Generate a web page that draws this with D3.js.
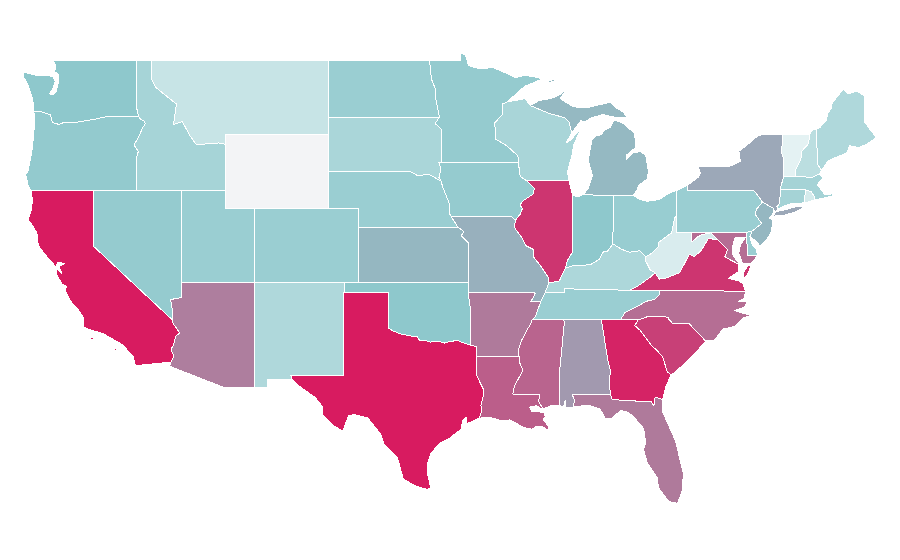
<!DOCTYPE html>
<html>
<head>
<meta charset="utf-8">
<title>US choropleth</title>
<script src="https://cdn.jsdelivr.net/npm/d3@7"></script>
<style>
  html, body { margin: 0; background: #fff; }
  svg { display: block; }
  .state { stroke: #fff; stroke-width: 1; stroke-linejoin: round; shape-rendering: crispEdges; }
</style>
</head>
<body>
<div id="map"></div>
<script>
// shared borders, [lon, lat]
const columbia = [[-124.0,46.27],[-123.55,46.26],[-123.2,46.15],[-122.9,46.08],[-122.8,45.85],[-122.75,45.65],[-122.3,45.55],[-121.9,45.68],[-121.2,45.65],[-120.6,45.74],[-120.0,45.81],[-119.3,45.93],[-118.98,46.0],[-116.92,46.0]];
const snake = [[-116.92,46.0],[-116.78,45.83],[-116.55,45.75],[-116.46,45.6],[-116.67,45.32],[-116.85,44.98],[-117.22,44.44],[-117.05,44.23],[-116.93,44.1],[-117.03,43.83],[-117.03,42.0]];
const caNv = [[-120.0,42.0],[-120.0,39.0],[-114.63,35.0]];
const colorado = [[-114.63,35.0],[-114.57,34.8],[-114.14,34.3],[-114.42,34.1],[-114.53,33.7],[-114.72,33.4],[-114.52,33.03],[-114.72,32.72]];
const nvAz = [[-114.04,37.0],[-114.04,36.2],[-114.4,36.15],[-114.75,36.1],[-114.65,35.6],[-114.63,35.0]];
const redRiver = [[-100.0,34.56],[-99.7,34.4],[-99.2,34.25],[-98.9,34.2],[-98.4,34.12],[-98.1,34.13],[-97.9,33.9],[-97.5,33.9],[-97.2,33.8],[-96.9,33.85],[-96.6,33.85],[-96.2,33.75],[-95.8,33.85],[-95.3,33.88],[-94.9,33.75],[-94.48,33.64]];
const sabine = [[-94.04,33.02],[-94.04,32.0],[-93.8,31.6],[-93.55,31.2],[-93.6,30.9],[-93.75,30.4],[-93.72,30.05],[-93.85,29.7]];
const missouriKs = [[-95.77,40.58],[-95.3,40.0],[-95.05,39.85],[-94.9,39.75],[-95.1,39.55],[-94.9,39.4],[-94.6,39.15],[-94.62,37.0]];
const missouriIa = [[-96.6,43.5],[-96.45,43.1],[-96.6,42.7],[-96.45,42.49],[-96.35,42.2],[-96.1,41.7],[-95.9,41.3],[-95.85,40.7],[-95.77,40.58]];
const rRiver = [[-97.23,49.0],[-97.1,48.0],[-96.85,47.5],[-96.8,46.9],[-96.56,45.94]];
const sdMn = [[-96.56,45.94],[-96.85,45.6],[-96.45,45.3],[-96.45,43.5]];
const upperMiss = [[-92.29,46.66],[-92.29,46.1],[-92.85,45.6],[-92.75,45.2],[-92.75,44.75],[-92.0,44.4],[-91.25,43.85],[-91.22,43.5]];
const iaWi = [[-91.22,43.5],[-91.1,42.75],[-90.65,42.5]];
const iaIl = [[-90.65,42.5],[-90.15,42.1],[-90.2,41.8],[-90.95,41.4],[-91.1,41.2],[-90.95,41.0],[-91.1,40.7],[-91.42,40.38]];
const moIl = [[-91.42,40.38],[-91.5,40.0],[-91.0,39.45],[-90.7,39.0],[-90.2,38.8],[-90.2,38.4],[-89.7,37.9],[-89.2,37.3],[-89.15,37.0]];
const bootheel = [[-90.15,36.5],[-90.08,36.4],[-90.37,36.0],[-89.7,36.0]];
const tnArk = [[-89.7,36.0],[-90.05,35.2],[-90.3,35.0]];
const msArk = [[-90.3,35.0],[-90.3,34.9],[-90.6,34.5],[-91.0,33.9],[-91.2,33.4],[-91.17,33.0]];
const msLa = [[-91.17,33.0],[-91.1,32.6],[-90.9,32.3],[-91.1,32.0],[-91.5,31.4],[-91.6,31.0],[-89.75,31.0],[-89.85,30.6],[-89.55,30.2]];
const ohioRiver = [[-82.6,38.4],[-83.0,38.73],[-83.7,38.65],[-84.2,38.8],[-84.82,39.1]];
const ohioRiverIn = [[-84.82,39.1],[-85.2,38.7],[-85.45,38.7],[-85.75,38.27],[-86.3,38.0],[-86.8,37.95],[-87.5,37.93],[-88.03,37.8]];
const ilKy = [[-88.03,37.8],[-88.45,37.1],[-89.15,37.0]];
const wabash = [[-87.53,41.72],[-87.53,39.35],[-87.53,38.7],[-87.9,38.2],[-88.03,37.8]];
const kyTn = [[-81.68,36.59],[-83.68,36.6],[-86.5,36.65],[-88.07,36.68],[-88.07,36.5],[-89.4,36.5]];
const tnNc = [[-84.32,35.0],[-84.0,35.4],[-83.1,35.75],[-82.6,36.0],[-82.0,36.1],[-81.7,36.35],[-81.68,36.59]];
const chattahoochee = [[-85.6,35.0],[-85.18,32.87],[-85.0,32.3],[-85.05,31.55],[-85.0,31.0]];
const gaFl = [[-85.0,31.0],[-84.86,30.7],[-82.21,30.57],[-82.05,30.36],[-82.0,30.75],[-81.95,30.83],[-81.45,30.71]];
const savannah = [[-83.11,35.0],[-83.35,34.7],[-83.0,34.45],[-82.75,34.2],[-82.2,33.6],[-81.9,33.4],[-81.45,33.0],[-81.15,32.2],[-80.87,32.03]];
const ncSc = [[-83.11,35.0],[-82.4,35.2],[-81.05,35.15],[-81.05,35.05],[-80.8,34.82],[-79.67,34.8],[-78.55,33.86]];
const ohPa = [[-80.52,41.98],[-80.52,40.64]];
const ohWv = [[-80.52,40.64],[-80.65,40.5],[-80.85,39.7],[-81.7,39.2],[-81.75,38.95],[-82.2,38.6],[-82.6,38.4]];
const kyWv = [[-82.6,38.4],[-82.6,38.17],[-82.3,37.7],[-81.97,37.54]];
const kyVa = [[-81.97,37.54],[-82.3,37.3],[-83.1,36.85],[-83.68,36.6]];
const vaWv = [[-81.97,37.54],[-81.68,37.2],[-81.25,37.25],[-80.3,37.55],[-79.65,38.55],[-79.3,38.42],[-78.85,38.75],[-78.35,39.4],[-77.72,39.32]];
const mdWv = [[-77.72,39.32],[-78.2,39.7],[-78.8,39.6],[-79.1,39.47],[-79.48,39.2],[-79.48,39.72]];
const potomac = [[-77.72,39.32],[-77.5,39.15],[-77.05,38.8],[-77.25,38.4],[-76.9,38.25],[-76.3,38.0]];
const delaware = [[-74.7,41.36],[-75.1,40.98],[-75.2,40.7],[-74.75,40.2],[-75.4,39.8]];
const vtNy = [[-73.35,45.0],[-73.4,44.0],[-73.25,43.6],[-73.27,42.75]];
const connecticutR = [[-71.5,45.0],[-71.6,44.5],[-72.05,44.1],[-72.1,43.7],[-72.45,43.1],[-72.46,42.73]];
const nhMe = [[-71.05,45.3],[-70.98,43.4],[-70.7,43.07]];
const maNorth = [[-73.27,42.75],[-72.46,42.73],[-71.3,42.7],[-70.85,42.88]];
const riMa = [[-71.8,42.02],[-71.38,41.9],[-71.2,41.65],[-71.13,41.5]];

const rev = (a) => [...a].reverse();
const ring = (...parts) => parts.flat();

// state outlines (outer rings and islands)
const outlines = {
  Washington: [ring([[-122.76,49.0],[-122.5,48.75],[-122.6,48.4],[-122.35,48.25],[-122.3,47.95],[-122.4,47.6],[-122.5,47.3],[-122.7,47.15],[-122.95,47.2],[-122.7,47.5],[-122.55,47.9],[-122.75,48.15],[-123.1,48.18],[-123.7,48.17],[-124.7,48.38],[-124.73,48.15],[-124.4,47.7],[-124.1,46.95],[-124.05,46.7],[-124.0,46.27]], columbia, [[-117.04,46.42],[-117.04,49.0]])],
  Oregon: [ring(columbia, snake, [[-124.21,42.0],[-124.4,42.3],[-124.55,42.85],[-124.4,43.0],[-124.15,44.0],[-124.05,44.7],[-123.95,45.6]])],
  California: [
    ring(caNv, colorado, [[-117.12,32.53],[-117.3,33.05],[-118.0,33.65],[-118.4,33.85],[-118.8,34.02],[-119.3,34.25],[-120.2,34.47],[-120.62,34.6],[-120.63,35.1],[-120.9,35.45],[-121.5,36.0],[-121.9,36.6],[-121.8,36.8],[-122.1,36.95],[-122.5,37.5],[-122.45,37.75],[-122.1,37.5],[-122.3,37.9],[-121.9,38.05],[-122.4,38.1],[-122.5,37.85],[-123.0,38.3],[-123.7,39.0],[-123.8,39.7],[-124.1,40.1],[-124.4,40.4],[-124.15,41.0],[-124.1,41.5],[-124.21,42.0]]),
    [[-120.15,34.05],[-119.95,34.05],[-119.95,33.95],[-120.15,33.95]],
    [[-119.85,34.05],[-119.65,34.05],[-119.65,33.98],[-119.85,33.98]],
    [[-118.55,33.45],[-118.4,33.45],[-118.4,33.35],[-118.55,33.35]],
  ],
  Idaho: [ring([[-117.04,49.0],[-117.04,46.42]], snake, [[-111.05,42.0],[-111.05,44.48],[-111.5,44.55],[-112.3,44.5],[-113.0,44.45],[-113.45,44.95],[-113.95,45.7],[-114.55,45.55],[-114.35,46.65],[-115.3,47.25],[-115.75,47.55],[-116.05,48.0],[-116.05,49.0]])],
  Montana: [[[-116.05,49.0],[-116.05,48.0],[-115.75,47.55],[-115.3,47.25],[-114.35,46.65],[-114.55,45.55],[-113.95,45.7],[-113.45,44.95],[-113.0,44.45],[-112.3,44.5],[-111.5,44.55],[-111.05,44.48],[-111.05,45.0],[-104.05,45.0],[-104.05,49.0]]],
  Wyoming: [[[-111.05,45.0],[-104.05,45.0],[-104.05,41.0],[-111.05,41.0]]],
  Nevada: [ring(caNv, rev(nvAz), [[-114.04,42.0]])],
  Utah: [[[-114.04,42.0],[-111.05,42.0],[-111.05,41.0],[-109.05,41.0],[-109.05,37.0],[-114.04,37.0]]],
  Arizona: [ring(nvAz, colorado, [[-114.81,32.5],[-111.07,31.33],[-109.05,31.33],[-109.05,37.0]])],
  Colorado: [[[-109.05,41.0],[-102.05,41.0],[-102.05,37.0],[-109.05,37.0]]],
  "New Mexico": [[[-109.05,37.0],[-103.0,37.0],[-103.04,32.0],[-106.62,32.0],[-106.53,31.78],[-108.21,31.78],[-108.21,31.33],[-109.05,31.33]]],
  "North Dakota": [ring([[-104.05,49.0]], rRiver, [[-104.05,45.94]])],
  "South Dakota": [ring([[-104.05,45.94]], sdMn, [[-96.6,43.5],[-96.45,43.1],[-96.6,42.7],[-96.45,42.49],[-96.7,42.6],[-97.3,42.87],[-98.0,42.77],[-98.5,43.0],[-104.05,43.0]])],
  Nebraska: [ring([[-104.05,43.0],[-98.5,43.0],[-98.0,42.77],[-97.3,42.87],[-96.7,42.6]], [[-96.45,42.49],[-96.35,42.2],[-96.1,41.7],[-95.9,41.3],[-95.85,40.7],[-95.77,40.58],[-95.3,40.0]], [[-102.05,40.0],[-102.05,41.0],[-104.05,41.0]])],
  Kansas: [ring([[-102.05,40.0],[-95.3,40.0],[-95.05,39.85],[-94.9,39.75],[-95.1,39.55],[-94.9,39.4],[-94.6,39.15],[-94.62,37.0],[-102.05,37.0]])],
  Oklahoma: [ring([[-103.0,37.0],[-94.62,37.0],[-94.62,36.5],[-94.43,35.4]], rev(redRiver), [[-100.0,36.5],[-103.0,36.5]])],
  Texas: [ring([[-103.04,36.5],[-100.0,36.5]], redRiver, [[-94.04,33.55]], sabine, [[-94.7,29.4],[-94.75,29.75],[-95.0,29.55],[-95.1,29.1],[-95.9,28.6],[-96.5,28.35],[-97.1,27.85],[-97.35,27.3],[-97.4,26.8],[-97.15,25.95],[-97.4,25.85],[-98.2,26.05],[-99.0,26.4],[-99.4,27.55],[-100.3,28.3],[-100.55,28.85],[-101.4,29.7],[-102.3,29.88],[-102.7,29.85],[-103.1,29.0],[-103.75,29.3],[-104.45,29.85],[-104.5,30.35],[-104.95,30.8],[-106.0,31.4],[-106.53,31.78],[-106.62,32.0],[-103.04,32.0]])],
  Minnesota: [ring([[-97.23,49.0],[-95.15,49.0],[-95.15,49.38],[-94.8,49.33],[-94.6,48.72],[-93.8,48.55],[-92.95,48.62],[-92.0,48.3],[-91.4,48.07],[-90.8,48.2],[-90.0,48.1],[-89.6,48.0],[-90.8,47.6],[-91.3,47.25],[-92.0,46.75],[-92.29,46.66]], upperMiss, [[-96.45,43.5]], rev(sdMn), rev(rRiver))],
  Iowa: [ring([[-91.22,43.5]], iaWi, iaIl, [[-91.73,40.6]], rev(missouriIa))],
  Missouri: [ring([[-95.77,40.58],[-91.73,40.6]], moIl, [[-89.4,36.5]], rev(bootheel), [[-94.62,36.5]], rev(missouriKs))],
  Arkansas: [ring([[-94.62,36.5]], bootheel, tnArk, msArk, [[-94.04,33.02],[-94.04,33.55],[-94.48,33.64],[-94.43,35.4]])],
  Louisiana: [ring(msLa, [[-89.65,30.2],[-90.0,30.37],[-90.45,30.3],[-90.3,30.05],[-89.9,30.05],[-89.5,30.0],[-89.4,29.8],[-89.55,29.6],[-89.15,29.25],[-89.2,29.05],[-89.6,29.25],[-90.0,29.25],[-90.3,29.1],[-90.9,29.2],[-91.3,29.4],[-91.8,29.6],[-92.3,29.55],[-93.2,29.75]], rev(sabine))],
  Mississippi: [ring(msArk, [[-91.1,32.6],[-90.9,32.3],[-91.1,32.0],[-91.5,31.4],[-91.6,31.0],[-89.75,31.0],[-89.85,30.6],[-89.55,30.2],[-88.9,30.4],[-88.4,30.35],[-88.47,31.9],[-88.1,34.9],[-88.2,35.0]])],
  Alabama: [ring([[-88.2,35.0]], chattahoochee, [[-87.6,31.0],[-87.4,30.65],[-87.52,30.3],[-88.0,30.25],[-88.05,30.65],[-88.15,30.35],[-88.4,30.35],[-88.47,31.9],[-88.1,34.9]])],
  Georgia: [ring(chattahoochee, gaFl, [[-81.2,31.5]], rev(savannah))],
  Florida: [ring(gaFl, [[-81.5,30.1],[-80.6,28.5],[-80.05,26.7],[-80.15,25.75],[-80.45,25.1],[-81.05,25.2],[-81.75,25.95],[-81.8,26.45],[-82.5,27.3],[-82.75,28.0],[-82.6,28.35],[-82.75,29.15],[-83.45,29.8],[-83.9,30.05],[-84.3,30.1],[-84.9,29.7],[-85.35,29.7],[-85.7,30.2],[-86.5,30.4],[-87.52,30.3],[-87.4,30.65],[-87.6,31.0]])],
  "South Carolina": [ring(ncSc, [[-79.1,33.35],[-79.9,32.7],[-80.45,32.3]], rev(savannah))],
  "North Carolina": [ring(tnNc, [[-75.87,36.55],[-75.9,36.2],[-76.3,36.0],[-75.75,36.0],[-75.9,35.7],[-76.6,35.5],[-76.0,35.35],[-75.5,35.25],[-76.0,35.1],[-76.55,34.65],[-77.4,34.5],[-77.95,33.9]], rev(ncSc), [[-84.32,35.0]])],
  Tennessee: [ring([[-90.3,35.0],[-84.32,35.0]], tnNc, kyTn, [[-89.7,36.0]], [[-90.05,35.2]])],
  Kentucky: [ring(rev(kyTn), [[-83.68,36.6]], rev(kyVa), rev(kyWv), ohioRiver, ohioRiverIn, ilKy)],
  Wisconsin: [ring([[-92.29,46.66],[-92.1,46.75],[-91.2,46.87],[-90.75,46.95],[-90.42,46.57],[-89.1,46.13],[-88.1,45.92],[-87.8,45.7],[-87.6,45.1],[-88.0,44.55],[-87.7,44.7],[-87.0,45.3],[-87.5,44.4],[-87.55,44.0],[-87.9,43.0],[-87.8,42.5],[-90.65,42.5],[-91.1,42.75]], rev(upperMiss))],
  Illinois: [ring([[-90.65,42.5],[-87.8,42.5],[-87.6,41.9]], wabash, ilKy, rev(moIl), rev(iaIl))],
  Indiana: [ring(wabash.slice(0, 1), [[-87.2,41.65],[-86.82,41.76],[-84.8,41.7],[-84.82,39.1]], ohioRiverIn.slice(1), rev(wabash).slice(1))],
  Ohio: [ring([[-84.8,41.7],[-83.45,41.73],[-83.0,41.5],[-82.5,41.4],[-81.7,41.5],[-81.0,41.85]], ohPa, ohWv, ohioRiver)],
  Michigan: [
    [[-86.82,41.76],[-86.5,42.1],[-86.2,42.8],[-86.5,43.6],[-86.25,44.7],[-86.05,44.9],[-85.6,45.0],[-85.4,45.25],[-85.0,45.4],[-84.75,45.78],[-84.2,45.65],[-83.4,45.1],[-83.3,44.7],[-83.3,44.3],[-83.9,43.9],[-83.9,43.65],[-83.4,44.05],[-82.95,44.07],[-82.6,43.9],[-82.42,43.0],[-82.5,42.6],[-83.1,42.25],[-83.15,42.05],[-83.45,41.73],[-84.8,41.7]],
    [[-90.42,46.57],[-89.8,46.85],[-89.0,46.95],[-88.45,47.15],[-87.9,47.47],[-88.4,46.95],[-87.5,46.5],[-86.6,46.45],[-85.0,46.75],[-84.6,46.45],[-84.1,46.2],[-83.9,45.95],[-84.75,45.95],[-85.5,46.08],[-86.3,45.9],[-86.7,45.7],[-87.0,45.75],[-87.6,45.1],[-87.8,45.7],[-88.1,45.92],[-89.1,46.13]],
    [[-89.2,47.87],[-88.7,48.02],[-88.7,47.93],[-89.1,47.82]],
  ],
  Pennsylvania: [ring([[-80.52,41.98],[-79.76,42.27],[-79.76,42.0],[-75.35,42.0],[-75.1,41.8]], delaware, [[-75.8,39.72],[-79.48,39.72],[-80.52,39.72]], [[-80.52,40.64]])],
  "New York": [
    ring([[-79.76,42.27],[-79.05,42.7],[-78.9,42.9],[-79.05,43.27],[-77.6,43.27],[-76.9,43.3],[-76.2,43.55],[-76.3,44.1],[-75.8,44.4],[-75.0,44.95],[-74.7,45.0]], vtNy, [[-73.5,42.05],[-73.53,41.3],[-73.73,41.1],[-73.65,41.0],[-73.9,40.8],[-73.93,41.0],[-74.7,41.36],[-75.1,41.8],[-75.35,42.0],[-79.76,42.0]]),
    [[-74.03,40.6],[-73.75,40.85],[-73.1,40.95],[-72.3,41.15],[-71.87,41.07],[-72.5,40.82],[-73.3,40.63]],
  ],
  "New Jersey": [ring([[-73.93,41.0],[-74.0,40.7],[-74.25,40.5],[-74.0,40.4],[-74.1,39.75],[-74.45,39.3],[-74.9,38.95],[-75.05,39.2],[-75.55,39.5]], rev(delaware))],
  Delaware: [[[-75.8,39.72],[-75.4,39.8],[-75.55,39.5],[-75.4,39.05],[-75.1,38.78],[-75.05,38.45],[-75.7,38.46]]],
  Maryland: [ring([[-79.48,39.72],[-75.8,39.72],[-75.7,38.46],[-75.05,38.45],[-75.2,38.3],[-75.5,38.05],[-76.05,38.05],[-76.3,38.6],[-76.2,39.05],[-75.85,39.45],[-76.55,39.45],[-76.7,39.05],[-76.7,38.5],[-76.35,38.1]], rev(potomac), mdWv.slice(1))],
  Virginia: [
    ring(rev(kyVa), vaWv, potomac, [[-76.35,37.6],[-77.0,37.25],[-76.3,37.1],[-76.0,36.95],[-75.87,36.55],[-81.68,36.59]]),
    [[-75.7,37.95],[-75.45,37.95],[-75.75,37.4],[-76.0,37.2],[-76.0,37.5]],
  ],
  "West Virginia": [ring([[-80.52,40.64],[-80.52,39.72]], rev(mdWv), rev(vaWv), rev(kyWv), rev(ohWv))],
  Vermont: [ring(vtNy, rev(connecticutR))],
  "New Hampshire": [ring(connecticutR, [[-71.3,42.7],[-70.85,42.88]], rev(nhMe), [[-71.3,45.3]])],
  Maine: [ring(nhMe, [[-70.25,43.6],[-69.8,43.75],[-69.0,44.0],[-68.8,44.4],[-68.2,44.3],[-67.6,44.5],[-67.0,44.85],[-67.45,45.3],[-67.8,45.7],[-67.8,47.07],[-68.3,47.35],[-68.9,47.2],[-69.23,47.46],[-69.99,46.7],[-70.05,46.4],[-70.25,46.2],[-70.4,45.75],[-70.8,45.4]])],
  Massachusetts: [ring(maNorth, [[-70.6,42.65],[-71.0,42.3],[-70.65,41.95],[-70.5,41.78],[-69.95,41.8],[-70.0,41.68],[-70.65,41.55]], rev(riMa), [[-73.5,42.05]])],
  "Rhode Island": [ring(riMa, [[-71.45,41.4],[-71.86,41.32]])],
  Connecticut: [[[-73.5,42.05],[-71.8,42.02],[-71.86,41.32],[-72.9,41.25],[-73.65,41.0],[-73.73,41.1],[-73.53,41.3]]],
};

const stateNames = ["Wyoming","Vermont","Rhode Island","West Virginia","Montana","New Hampshire","Maine","New Mexico","Kentucky","South Dakota","Wisconsin","Idaho","Connecticut","Massachusetts","North Dakota","Utah","Nebraska","Colorado","Tennessee","Pennsylvania","Delaware","Ohio","Nevada","Minnesota","Iowa","Oregon","Washington","Oklahoma","Indiana","Michigan","New Jersey","Kansas","Missouri","New York","Alabama","Arizona","Arkansas","Florida","North Carolina","Maryland","Mississippi","Louisiana","South Carolina","Virginia","Illinois","Georgia","California","Texas"];
const stateValues = [null,2.4,3.7,3.4,5,6,7.1,7.1,7.3,7.5,7.6,7.9,8,8,8.9,8.9,8.9,8.9,8.9,8.9,8.9,9.1,9.4,9.4,9.4,9.6,10,10,10,18,19,19,22.5,26.7,34.5,48.5,50.6,50.6,57,57,62,65,81,86.6,86.6,96,100,100];

const width = 900;
const height = 560;
const noData = "#f3f4f6";

const x = d3.scaleLinear().domain([-120, -80.52]).range([93, 676.5]);
const y = d3.scaleLinear().domain([49, 32]).range([60.5, 375.5]);
const color = d3.scaleLinear().domain([0, 10, 100]).range(["#ffffff", "#8ec8cc", "#d81b60"]);

const line = d3.line().x((d) => x(d[0])).y((d) => y(d[1])).curve(d3.curveLinearClosed);

const svg = d3.select("#map").append("svg").attr("width", width).attr("height", height);

svg.selectAll("path.state")
  .data(stateNames.map((name, i) => ({ name, value: stateValues[i] })))
  .join("path")
  .attr("class", "state")
  .attr("fill", (d) => (d.value === null ? noData : color(d.value)))
  .attr("d", (d) => outlines[d.name].map((r) => line(r)).join(""))
  .append("title")
  .text((d) => d.name);
</script>
</body>
</html>
